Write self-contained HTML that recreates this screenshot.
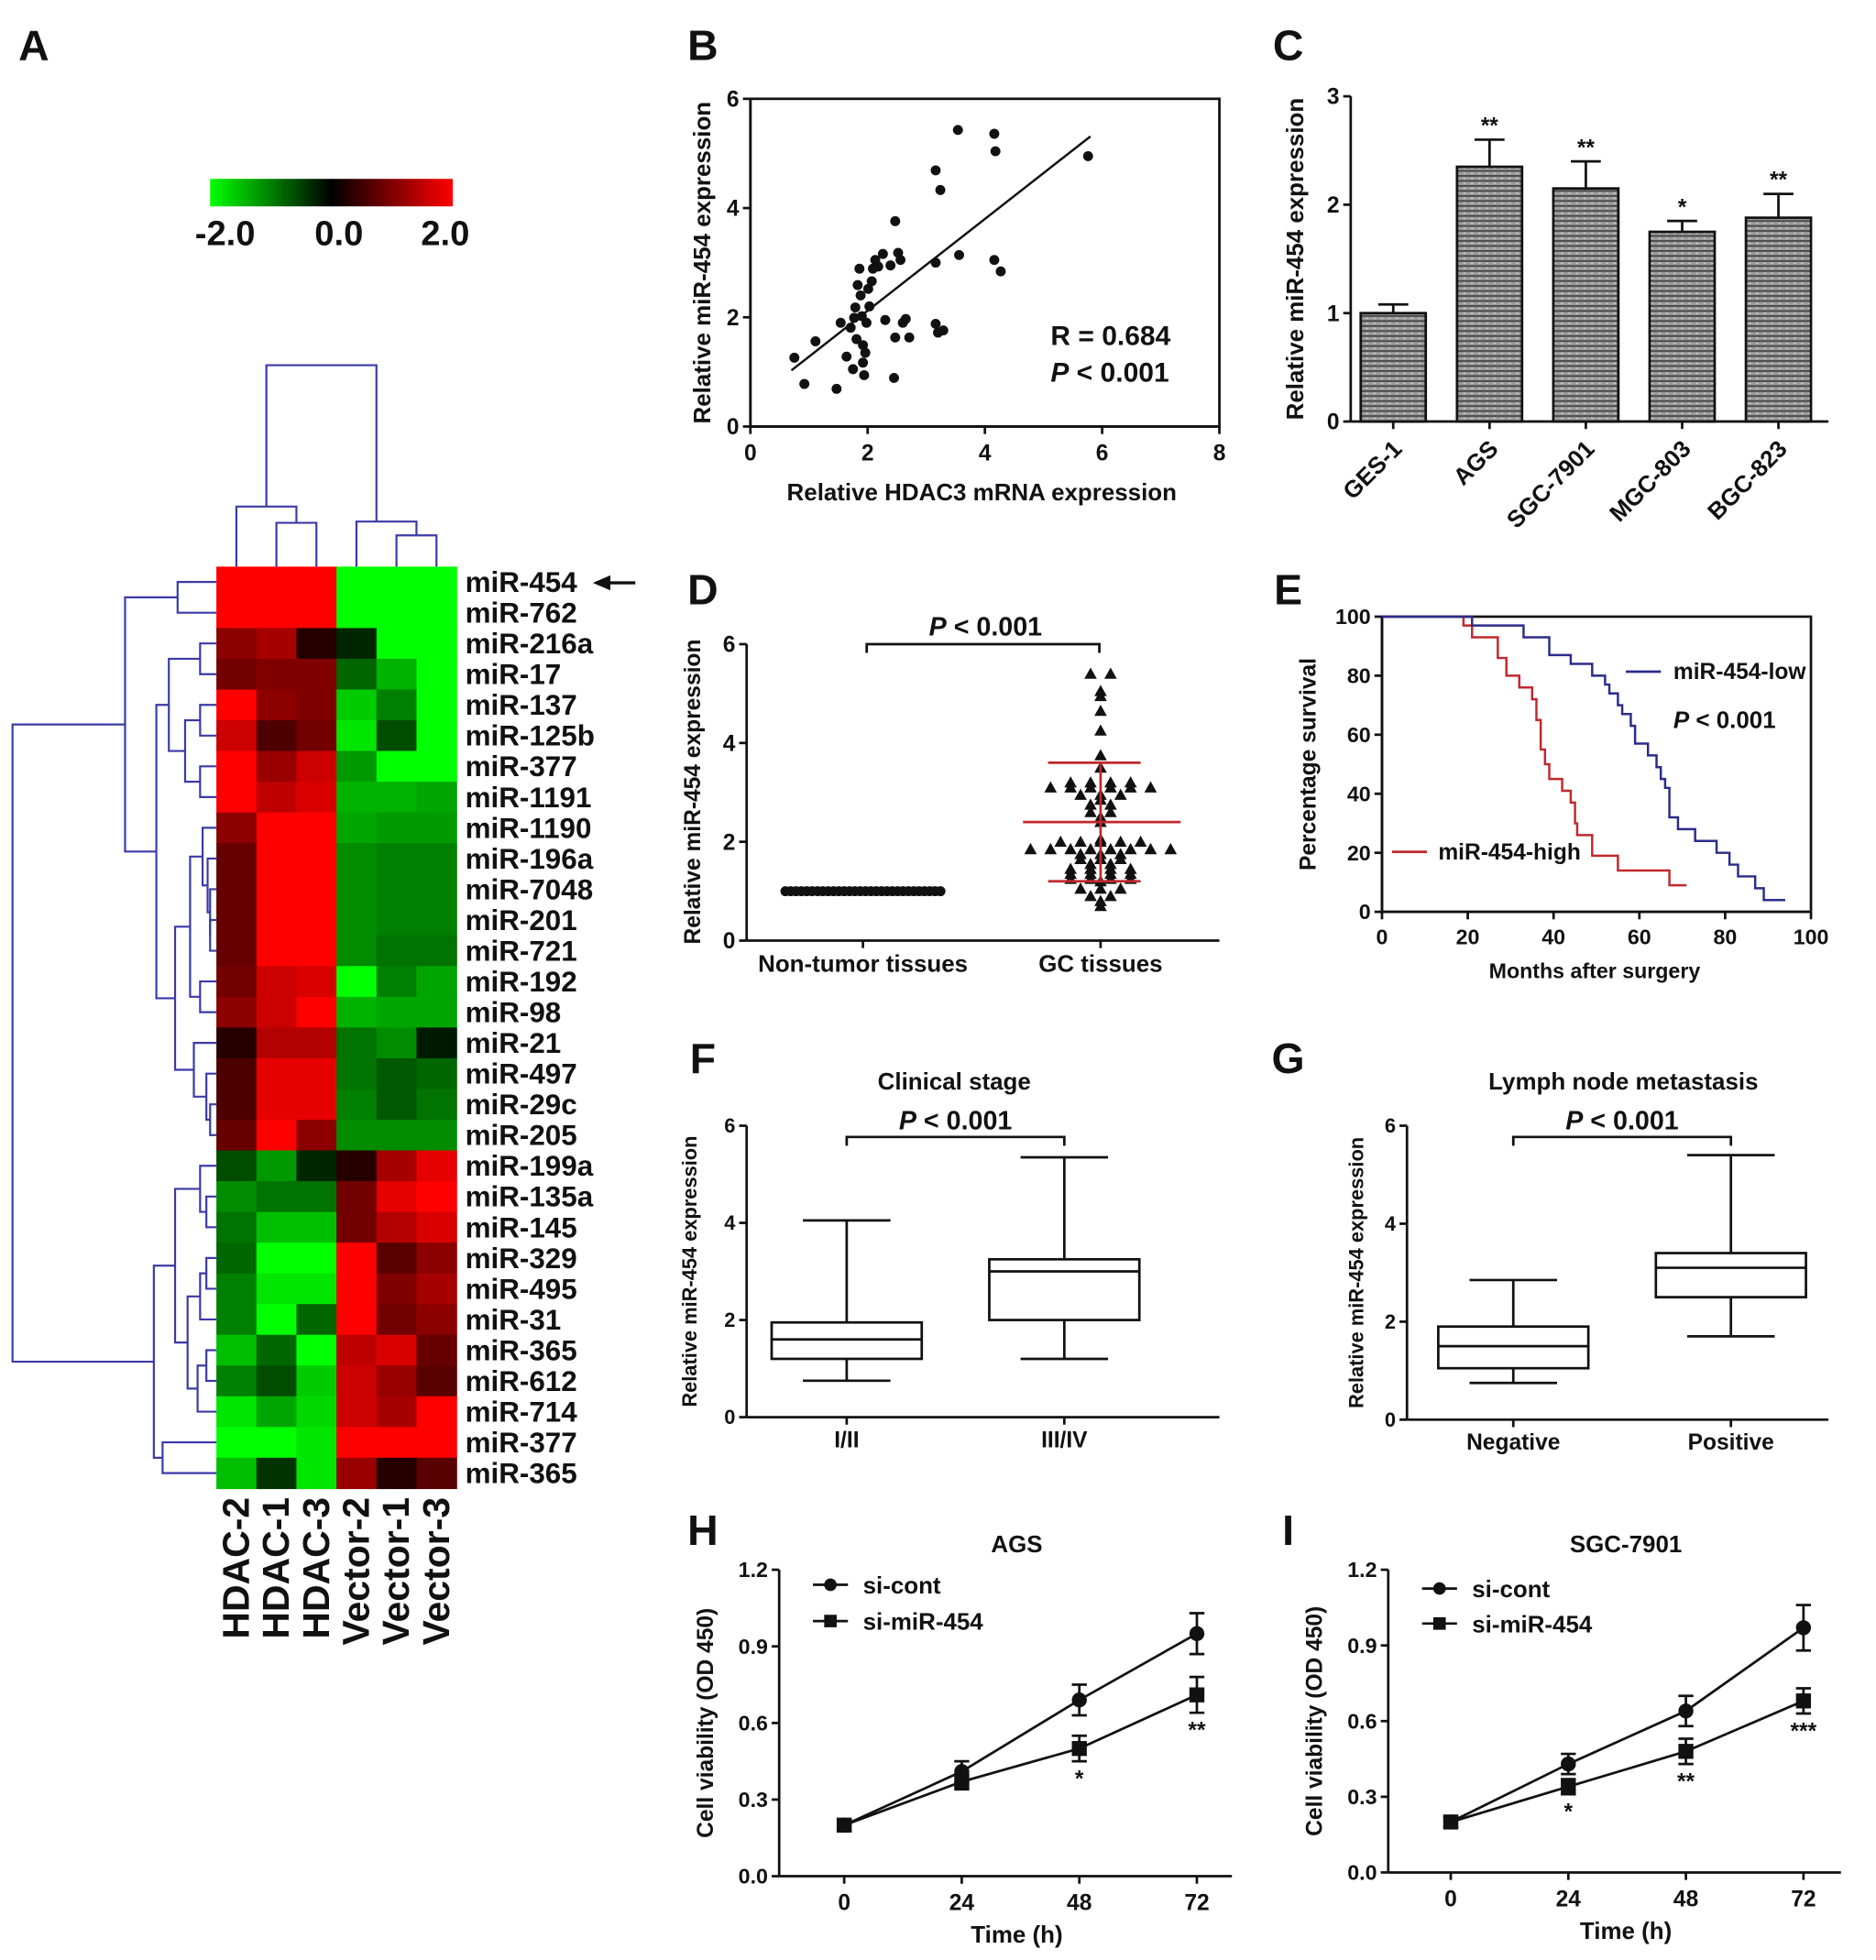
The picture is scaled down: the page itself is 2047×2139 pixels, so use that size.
<!DOCTYPE html>
<html><head><meta charset="utf-8"><style>
html,body{margin:0;padding:0;background:#fff}
svg{display:block}
text{font-family:"Liberation Sans",sans-serif;font-weight:bold;fill:#111}
</style></head><body>
<svg id="fig" width="2047" height="2139" viewBox="0 0 1500 1567" preserveAspectRatio="none" xmlns="http://www.w3.org/2000/svg">
<defs>
<linearGradient id="cbar" x1="0" x2="1" y1="0" y2="0"><stop offset="0" stop-color="#00ff00"/><stop offset="0.5" stop-color="#000"/><stop offset="1" stop-color="#ff0000"/></linearGradient>
<pattern id="hatch" width="6" height="4" patternUnits="userSpaceOnUse"><rect width="6" height="4" fill="#9a9a9a"/><rect width="6" height="1.3" fill="#444"/><rect x="0" y="2" width="2" height="1" fill="#ccc"/></pattern>
</defs>
</svg>
<script>
// ---------- DATA ----------
const hmRows=["miR-454","miR-762","miR-216a","miR-17","miR-137","miR-125b","miR-377","miR-1191","miR-1190","miR-196a","miR-7048","miR-201","miR-721","miR-192","miR-98","miR-21","miR-497","miR-29c","miR-205","miR-199a","miR-135a","miR-145","miR-329","miR-495","miR-31","miR-365","miR-612","miR-714","miR-377","miR-365"];
const hmCols=["HDAC-2","HDAC-1","HDAC-3","Vector-2","Vector-1","Vector-3"];
const hmVals=[[2,2,2,-2,-2,-2],[2,2,2,-2,-2,-2],[1.1,1.3,0.3,-0.3,-2,-2],[0.9,1.0,1.0,-0.8,-1.4,-2],[2,1.1,1.0,-1.6,-1.0,-2],[1.6,0.6,0.9,-1.8,-0.6,-2],[2,1.2,1.6,-1.2,-2,-2],[2,1.5,1.7,-1.4,-1.4,-1.3],[1.1,2,2,-1.3,-1.2,-1.2],[0.8,2,2,-1.1,-1.0,-1.0],[0.8,2,2,-1.1,-1.0,-1.0],[0.8,2,2,-1.1,-1.0,-1.0],[0.8,2,2,-1.1,-0.9,-0.9],[0.9,1.6,1.7,-2,-1.0,-1.3],[1.1,1.6,2,-1.4,-1.3,-1.3],[0.3,1.4,1.4,-0.9,-1.1,-0.2],[0.6,1.8,1.8,-0.9,-0.7,-0.8],[0.6,1.8,1.8,-1.0,-0.7,-0.9],[0.8,2,1.1,-1.1,-1.1,-1.1],[-0.6,-1.2,-0.3,0.3,1.3,1.8],[-1.1,-0.9,-0.9,0.9,1.8,2],[-0.9,-1.5,-1.5,0.9,1.4,1.7],[-0.8,-2,-2,2,0.7,1.1],[-1.0,-1.8,-1.8,2,1.0,1.3],[-1.0,-2,-0.8,2,0.9,1.1],[-1.5,-0.8,-2,1.5,1.7,0.8],[-1.0,-0.6,-1.6,1.6,1.2,0.7],[-1.8,-1.3,-1.7,1.6,1.3,2],[-2,-2,-1.8,2,2,2],[-1.5,-0.4,-1.8,1.2,0.3,0.7]];
const scatX=[0.75,0.92,1.11,1.47,1.54,1.64,1.71,1.75,1.77,1.79,1.81,1.83,1.86,1.88,1.90,1.92,1.92,1.94,1.96,1.98,2.01,2.03,2.07,2.09,2.13,2.18,2.26,2.30,2.39,2.45,2.47,2.47,2.52,2.56,2.60,2.65,2.71,3.16,3.16,3.16,3.24,3.20,3.29,3.54,3.56,4.16,4.18,4.16,4.27,5.76];
const scatY=[1.26,0.78,1.56,0.69,1.90,1.28,1.81,1.05,1.99,2.18,1.60,2.59,2.89,2.40,2.02,1.49,1.17,0.94,1.35,1.90,2.52,2.20,2.66,2.89,3.05,2.93,3.16,1.95,2.95,0.89,1.63,3.76,3.18,3.05,1.90,1.97,1.63,4.69,3.00,1.88,4.33,1.72,1.76,5.43,3.14,5.36,5.04,3.05,2.84,4.95];
const fitLine=[0.7,5.8]; const fitSlope=0.84, fitIntercept=0.44;
const cellLines=["GES-1","AGS","SGC-7901","MGC-803","BGC-823"];
const cellMeans=[1.0,2.35,2.15,1.75,1.88];
const cellErr=[0.08,0.25,0.25,0.1,0.22];
const cellStars=["","**","**","*","**"];
const nonTumorVals=[1,1,1,1,1,1,1,1,1,1,1,1,1,1,1,1,1,1,1,1,1,1,1,1,1,1,1,1,1,1];
const gcVals=[5.4,5.4,5.05,4.95,4.65,4.25,3.75,3.5,3.2,3.2,3.2,3.2,3.1,3.1,3.1,3.1,3.1,3.1,2.95,2.95,2.95,2.85,2.75,2.75,2.6,2.6,2.5,2.4,2.05,2.0,2.0,2.0,2.0,2.0,1.85,1.85,1.85,1.85,1.85,1.85,1.85,1.85,1.75,1.75,1.75,1.65,1.65,1.65,1.55,1.55,1.45,1.45,1.45,1.45,1.35,1.35,1.35,1.35,1.25,1.25,1.25,1.25,1.2,1.05,1.05,1.05,0.9,0.9,0.8,0.7];
const gcMean=2.4, gcSD=1.2;
const kmHighT=[0,19,21,27,29,32,35,36,37,38,39,42,44,45,45.5,49,55,67,71];
const kmHighS=[100,97,93,86,80,76,72,65,55,50,45,41,37,30,26,19,14,9,9];
const kmLowT=[0,21,33,39,44,49,52,53,55,56,58,59,62,64,65,66,67,69,73,78,81,83,87,89,94];
const kmLowS=[100,97,93,87,84,80,77,74,70,67,63,57,53,49,45,42,32,28,24,20,16,12,8,4,4];
const stageCats=["I/II","III/IV"];
const stageBox=[[0.75,1.2,1.6,1.95,4.05],[1.2,2.0,3.0,3.25,5.35]];
const lnCats=["Negative","Positive"];
const lnBox=[[0.75,1.05,1.5,1.9,2.85],[1.7,2.5,3.1,3.4,5.4]];
const timePts=[0,24,48,72];
const agsCont=[0.2,0.41,0.69,0.95], agsContErr=[0.02,0.04,0.06,0.08];
const agsMir=[0.2,0.37,0.5,0.71], agsMirErr=[0.02,0.03,0.05,0.07];
const agsStars=["","","*","**"];
const sgcCont=[0.2,0.43,0.64,0.97], sgcContErr=[0.02,0.04,0.06,0.09];
const sgcMir=[0.2,0.34,0.48,0.68], sgcMirErr=[0.02,0.03,0.05,0.05];
const sgcStars=["","*","**","***"];

// ---------- HELPERS ----------
const NS="http://www.w3.org/2000/svg";
const svg=document.getElementById('fig');
function el(tag,attrs,name,parent){
  const e=document.createElementNS(NS,tag);
  for(const k in attrs)e.setAttribute(k,attrs[k]);
  
  
  (parent||svg).appendChild(e);return e;
}
function txt(x,y,s,size,name,anchor,extra){
  const t=el('text',Object.assign({x:x,y:y,'font-size':size,'text-anchor':anchor||'middle'},extra||{}),name);
  t.textContent=s;return t;
}
function line(x1,y1,x2,y2,name,w,c){return el('line',{x1:x1,y1:y1,x2:x2,y2:y2,stroke:c||'#111','stroke-width':w||2},name);}
function lin(d0,d1,p0,p1){return v=>p0+(v-d0)/(d1-d0)*(p1-p0);}
function vlabel(x,y,s,size,name){return txt(x,y,s,size,name,'middle',{transform:`rotate(-90 ${x} ${y})`});}
function yAxis(x,yS,ticks,labels,name,size){
  line(x,yS(ticks[0]),x,yS(ticks[ticks.length-1]),name+'-line');
  ticks.forEach((t,i)=>{line(x-6,yS(t),x,yS(t),name+'-tick');txt(x-9,yS(t)+size*0.35,labels[i],size,name+'-tick-label','end');});
}
function xAxis(y,xS,ticks,labels,name,size,x0,x1){
  line(x0,y,x1,y,name+'-line');
  ticks.forEach((t,i)=>{line(xS(t),y,xS(t),y+6,name+'-tick');if(labels)txt(xS(t),y+size+9,labels[i],size,name+'-tick-label');});
}
// panel letters
[["A",27,36],["B",562,36],["C",1030,36],["D",562,471],["E",1030,471],["F",562,846],["G",1030,846],["H",562,1223],["I",1030,1223]].forEach(p=>txt(p[1],p[2]+12,p[0],34,'panel-label-'+p[0].toLowerCase()));

// ---------- A: heatmap ----------
const hx0=173,hcw=32,hy0=453,hrh=(1190-453)/hmRows.length;
function col(v){const a=Math.min(1,Math.abs(v)/2);return v>=0?`rgb(${Math.round(255*a)},0,0)`:`rgb(0,${Math.round(255*a)},0)`;}
hmVals.forEach((row,r)=>row.forEach((v,c)=>{
  el('rect',{x:hx0+c*hcw,y:hy0+r*hrh,width:hcw+0.5,height:hrh+0.5,fill:col(v)},'heatmap-cell');
}));
hmRows.forEach((n,r)=>txt(372,hy0+r*hrh+hrh/2+8,n,23,'row-label','start'));
hmCols.forEach((n,c)=>{const x=hx0+c*hcw+hcw/2+10;txt(x,1197,n,30,'column-label','end',{transform:`rotate(-90 ${x} 1197)`});});
line(480,466,508,466,'arrow-shaft',2.5);
el('polygon',{points:'474,466 488,460 488,472',fill:'#111'},'arrow-head');
el('rect',{x:168,y:143,width:194,height:22,fill:'url(#cbar)'},'color-scale-bar');
txt(180,196,'-2.0',28,'color-scale-label');txt(271,196,'0.0',28,'color-scale-label');txt(356,196,'2.0',28,'color-scale-label');
const dc='#3a3aa8';
function dp(d,name){el('path',{d:d,stroke:dc,'stroke-width':1.6,fill:'none'},name);}
dp('M221,453V418H253V453 M189,453V405H237V418 M213,405V292H301V417 M317,453V428H349V453 M285,453V417H333V428','column-dendrogram');
const ry=i=>hy0+i*hrh+hrh/2;
function tree(n){ if(typeof n==='number')return {y:ry(n),x:173};
  const a=tree(n.c[0]),b=tree(n.c[1]);
  dp(`M${a.x},${a.y}H${n.x}V${b.y}H${b.x}`,'row-dendrogram');return {y:(a.y+b.y)/2,x:n.x};}
tree({x:10,c:[
 {x:100,c:[{x:142,c:[0,1]},{x:125,c:[
   {x:135,c:[{x:160,c:[2,3]},{x:148,c:[{x:160,c:[4,5]},{x:160,c:[6,7]}]}]},
   {x:140,c:[{x:152,c:[{x:162,c:[8,{x:166,c:[9,{x:168,c:[10,{x:168,c:[11,12]}]}]}]},{x:160,c:[13,14]}]},{x:155,c:[15,{x:165,c:[16,{x:168,c:[17,18]}]}]}]}]}]},
 {x:123,c:[{x:140,c:[{x:160,c:[19,{x:165,c:[20,21]}]},{x:150,c:[{x:160,c:[{x:165,c:[22,23]},24]},{x:158,c:[{x:165,c:[25,26]},27]}]}]},{x:130,c:[28,29]}]}
]});

// ---------- B: scatter ----------
{const xS=lin(0,8,600,975),yS=lin(0,6,341,79);
 el('rect',{x:600,y:79,width:375,height:262,fill:'none',stroke:'#111','stroke-width':2},'plot-frame-b');
 yAxis(600,yS,[0,2,4,6],['0','2','4','6'],'y-axis-b',18);
 xAxis(341,xS,[0,2,4,6,8],['0','2','4','6','8'],'x-axis-b',18,600,975);
 scatX.forEach((v,i)=>el('circle',{cx:xS(v),cy:yS(scatY[i]),r:4,fill:'#111'},'scatter-point'));
 line(xS(fitLine[0]),yS(fitIntercept+fitSlope*fitLine[0]),xS(fitLine[1]),yS(fitIntercept+fitSlope*fitLine[1]),'regression-line',1.8);
 txt(840,276,'R = 0.684',22,'r-value','start',{'font-weight':'normal'});
 const p=txt(840,305,'',22,'p-value-b','start',{'font-weight':'normal'});p.innerHTML='<tspan font-style="italic">P</tspan> &lt; 0.001';
 vlabel(568,210,'Relative miR-454 expression',19,'y-axis-title-b');
 txt(785,400,'Relative HDAC3 mRNA expression',19,'x-axis-title-b');}

// ---------- C: bars ----------
{const yS=lin(0,3,337,77);const cx=i=>1114+i*77;
 yAxis(1080,yS,[0,1,2,3],['0','1','2','3'],'y-axis-c',18);
 line(1080,337,1462,337,'x-axis-c-line');
 cellLines.forEach((n,i)=>{
  el('rect',{x:cx(i)-26,y:yS(cellMeans[i]),width:52,height:yS(0)-yS(cellMeans[i]),fill:'url(#hatch)',stroke:'#111','stroke-width':2},'bar-'+n.toLowerCase());
  line(cx(i),yS(cellMeans[i]),cx(i),yS(cellMeans[i]+cellErr[i]),'error-bar');
  line(cx(i)-12,yS(cellMeans[i]+cellErr[i]),cx(i)+12,yS(cellMeans[i]+cellErr[i]),'error-cap');
  if(cellStars[i])txt(cx(i),yS(cellMeans[i]+cellErr[i])-5,cellStars[i],18,'significance-stars');
  line(cx(i),337,cx(i),343,'x-axis-c-tick');
  txt(cx(i)+8,360,n,19,'x-tick-label-c','end',{transform:`rotate(-45 ${cx(i)+8} 360)`});
 });
 vlabel(1042,207,'Relative miR-454 expression',19,'y-axis-title-c');}

// ---------- D: dot plot ----------
{const yS=lin(0,6,752,515);
 yAxis(597,yS,[0,2,4,6],['0','2','4','6'],'y-axis-d',18);
 line(597,752,975,752,'x-axis-d-line');line(690,752,690,758,'x-tick');line(880,752,880,758,'x-tick');
 nonTumorVals.forEach((v,i)=>el('circle',{cx:628+i*(124/(nonTumorVals.length-1)),cy:yS(v),r:4,fill:'#111'},'non-tumor-point'));
 const cnt={};gcVals.forEach(v=>{cnt[v]=(cnt[v]||0)+1;});const used={};
 gcVals.forEach(v=>{const k=used[v]||0;used[v]=k+1;const n=cnt[v];const off=(k-(n-1)/2)*16;
  const x=880+off,y=yS(v);el('polygon',{points:`${x},${y-5} ${x-5},${y+4} ${x+5},${y+4}`,fill:'#111'},'gc-tissue-point');});
 line(880,yS(gcMean-gcSD),880,yS(gcMean+gcSD),'sd-line',2,'#c0282d');
 line(818,yS(gcMean),944,yS(gcMean),'mean-line',2,'#c0282d');
 line(838,yS(gcMean+gcSD),912,yS(gcMean+gcSD),'sd-cap',2,'#c0282d');
 line(838,yS(gcMean-gcSD),912,yS(gcMean-gcSD),'sd-cap',2,'#c0282d');
 el('path',{d:'M693,522V515H879V522',stroke:'#111','stroke-width':2,fill:'none'},'significance-bracket-d');
 const p=txt(788,508,'',21,'p-value-d','middle',{'font-weight':'normal'});p.innerHTML='<tspan font-style="italic">P</tspan> &lt; 0.001';
 txt(690,777,'Non-tumor tissues',19,'x-tick-label-d');txt(880,777,'GC tissues',19,'x-tick-label-d');
 vlabel(560,633,'Relative miR-454 expression',18,'y-axis-title-d');}

// ---------- E: Kaplan-Meier ----------
{const xS=lin(0,100,1105,1448),yS=lin(0,100,729,493);
 el('rect',{x:1105,y:493,width:343,height:236,fill:'none',stroke:'#111','stroke-width':2},'plot-frame-e');
 yAxis(1105,yS,[0,20,40,60,80,100],['0','20','40','60','80','100'],'y-axis-e',17);
 xAxis(729,xS,[0,20,40,60,80,100],['0','20','40','60','80','100'],'x-axis-e',17,1105,1448);
 function km(T,S,c,name){let d=`M${xS(T[0])},${yS(S[0])}`;for(let i=1;i<T.length;i++){d+=`H${xS(T[i])}V${yS(S[i])}`;}
  el('path',{d:d,stroke:c,'stroke-width':1.8,fill:'none'},name);}
 km(kmHighT,kmHighS,'#c0282d','survival-curve-high');km(kmLowT,kmLowS,'#2b2b8a','survival-curve-low');
 line(1300,537,1328,537,'legend-line-low',2,'#2b2b8a');txt(1338,543,'miR-454-low',18,'legend-entry-low','start',{'font-weight':'normal'});
 line(1113,681,1141,681,'legend-line-high',2,'#c0282d');txt(1150,687,'miR-454-high',18,'legend-entry-high','start',{'font-weight':'normal'});
 const p=txt(1338,582,'',19,'p-value-e','start',{'font-weight':'normal'});p.innerHTML='<tspan font-style="italic">P</tspan> &lt; 0.001';
 vlabel(1052,611,'Percentage  survival',18,'y-axis-title-e');
 txt(1275,782,'Months after surgery',17,'x-axis-title-e');}

// ---------- F/G: boxplots ----------
function boxPanel(ax,ay0,ay1,x1,cats,box,centers,title,tx,ylx,name){
 const yS=lin(0,6,ay0,ay1);
 yAxis(ax,yS,[0,2,4,6],['0','2','4','6'],'y-axis-'+name,16);
 line(ax,ay0,x1,ay0,'x-axis-'+name+'-line');
 cats.forEach((c,i)=>{const cx=centers[i],b=box[i];
  line(cx,yS(b[0]),cx,yS(b[1]),'whisker');line(cx,yS(b[3]),cx,yS(b[4]),'whisker');
  line(cx-35,yS(b[0]),cx+35,yS(b[0]),'whisker-cap');line(cx-35,yS(b[4]),cx+35,yS(b[4]),'whisker-cap');
  el('rect',{x:cx-60,y:yS(b[3]),width:120,height:yS(b[1])-yS(b[3]),fill:'none',stroke:'#111','stroke-width':2},'box-'+c.toLowerCase().replace('/','-'));
  line(cx-60,yS(b[2]),cx+60,yS(b[2]),'median-line');
  line(cx,ay0,cx,ay0+6,'x-tick');txt(cx,ay0+24,c,18,'x-tick-label-'+name);});
 el('path',{d:`M${centers[0]},${ay1+16}V${ay1+9}H${centers[1]}V${ay1+16}`,stroke:'#111','stroke-width':2,fill:'none'},'significance-bracket-'+name);
 const p=txt((centers[0]+centers[1])/2,ay1+3,'',21,'p-value-'+name,'middle',{'font-weight':'normal'});p.innerHTML='<tspan font-style="italic">P</tspan> &lt; 0.001';
 txt(tx,ay1-29,title,19,'chart-title-'+name);
 vlabel(ylx,(ay0+ay1)/2,'Relative miR-454 expression',16,'y-axis-title-'+name);}
boxPanel(597,1133,900,975,stageCats,stageBox,[677,851],'Clinical stage',763,557,'f');
boxPanel(1125,1135,900,1462,lnCats,lnBox,[1210,1384],'Lymph node metastasis',1298,1090,'g');

// ---------- H/I: growth curves ----------
function growth(ax,ay0,x1,xt0,cont,contE,mir,mirE,stars,title,tx,name){
 const yS=lin(0,1.2,ay0,1255),xS=lin(0,72,xt0,xt0+282);
 yAxis(ax,yS,[0,0.3,0.6,0.9,1.2],['0.0','0.3','0.6','0.9','1.2'],'y-axis-'+name,17);
 xAxis(ay0,xS,timePts,timePts.map(String),'x-axis-'+name,18,ax,x1);
 function series(v,e,marker,sname){
  el('polyline',{points:timePts.map((t,i)=>xS(t)+','+yS(v[i])).join(' '),fill:'none',stroke:'#111','stroke-width':2},sname+'-line');
  timePts.forEach((t,i)=>{const x=xS(t);line(x,yS(v[i]-e[i]),x,yS(v[i]+e[i]),sname+'-error-bar');
   line(x-6,yS(v[i]+e[i]),x+6,yS(v[i]+e[i]),sname+'-error-cap');line(x-6,yS(v[i]-e[i]),x+6,yS(v[i]-e[i]),sname+'-error-cap');
   if(marker==='c')el('circle',{cx:x,cy:yS(v[i]),r:6,fill:'#111'},sname+'-point');
   else el('rect',{x:x-6,y:yS(v[i])-6,width:12,height:12,fill:'#111'},sname+'-point');});}
 series(cont,contE,'c','si-cont');series(mir,mirE,'s','si-mir-454');
 timePts.forEach((t,i)=>{if(stars[i])txt(xS(t),yS(mir[i]-mirE[i])+20,stars[i],18,'significance-stars');});
 const lx=ax+27;const d1=name==='i'?3:0,d2=name==='i'?2:0;
 line(lx,1267+d1,lx+28,1267+d1,'legend-line-si-cont');el('circle',{cx:lx+14,cy:1267+d1,r:5,fill:'#111'},'legend-marker-si-cont');
 txt(lx+40,1274+d1,'si-cont',19,'legend-entry-si-cont','start',{'font-weight':'normal'});
 line(lx,1296+d2,lx+28,1296+d2,'legend-line-si-mir-454');el('rect',{x:lx+9,y:1291+d2,width:10,height:10,fill:'#111'},'legend-marker-si-mir-454');
 txt(lx+40,1303+d2,'si-miR-454',19,'legend-entry-si-mir-454','start',{'font-weight':'normal'});
 txt(tx,1241,title,19,'chart-title-'+name);
 txt(tx,ay0+53,'Time (h)',19,'x-axis-title-'+name);
 vlabel(ax-53,(ay0+1255)/2,'Cell viability (OD 450)',18,'y-axis-title-'+name);}
growth(623,1500,985,675,agsCont,agsContErr,agsMir,agsMirErr,agsStars,'AGS',813,'h');
growth(1110,1497,1472,1160,sgcCont,sgcContErr,sgcMir,sgcMirErr,sgcStars,'SGC-7901',1300,'i');
</script>
</body></html>
